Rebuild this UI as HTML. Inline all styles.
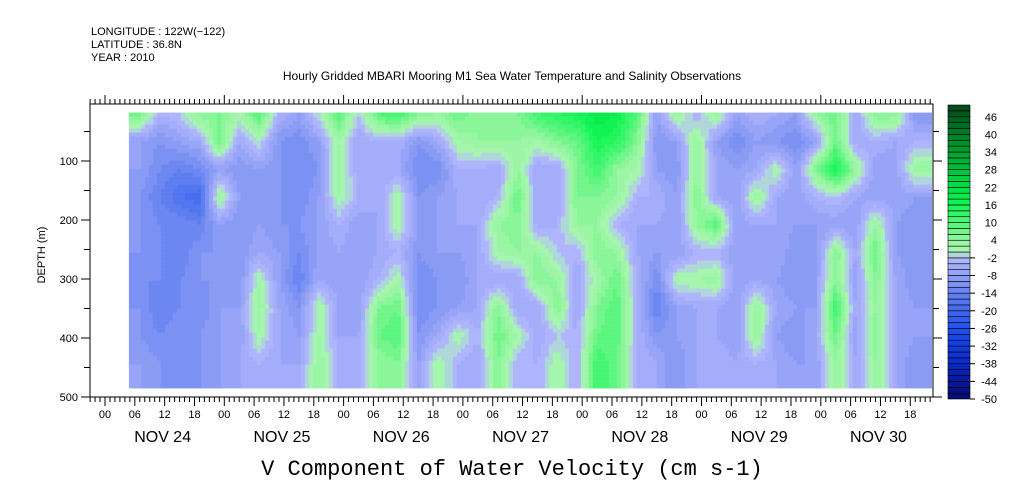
<!DOCTYPE html>
<html><head><meta charset="utf-8"><style>
html,body{margin:0;padding:0;background:#fff;}
svg{display:block;font-family:"Liberation Sans",sans-serif;}
</style></head><body>
<svg id="chart" width="1009" height="504" viewBox="0 0 1009 504">
<text x="91" y="35" font-size="11">LONGITUDE : 122W(−122)</text>
<text x="91" y="48" font-size="11">LATITUDE : 36.8N</text>
<text x="91" y="61" font-size="11">YEAR : 2010</text>
<text x="512" y="80" font-size="12" text-anchor="middle">Hourly Gridded MBARI Mooring M1 Sea Water Temperature and Salinity Observations</text>
<g id="heat"></g>
<g id="axes"></g>
<g id="cbar"></g>
<text x="512" y="475" font-size="22" font-family="Liberation Mono, monospace" text-anchor="middle">V Component of Water Velocity (cm s-1)</text>
<text transform="translate(45,255) rotate(-90)" font-size="11" text-anchor="middle">DEPTH (m)</text>
</svg>
<script>
// time (hours since NOV 24 00:00) of each data column, depth rows (m)
const colHours = [7,11,15,19,23,27,31,35,39,43,47,51,55,59,63,67,71,75,79,83,87,91,95,99,103,107,111,115,119,123,127,131,135,139,143,147,151,155,159,163];
const rowDepths = [20,67,114,161,208,255,302,349,396,443];
const dayLabels = ["NOV 24","NOV 25","NOV 26","NOV 27","NOV 28","NOV 29","NOV 30"];
const hourLabels = ["00","06","12","18"];
const depthTicks = [100,200,300,400,500];
const cbarLabels = [46,40,34,28,22,16,10,4,-2,-8,-14,-20,-26,-32,-38,-44,-50];
// V velocity values (cm/s), one array per column, top to bottom
const values = [
[8,-8,-8,-10,-10,-10,-12,-10,-10,-8],
[-4,-10,-12,-14,-12,-12,-12,-14,-12,-10],
[-2,-8,-14,-18,-12,-14,-12,-12,-10,-12],
[6,-6,-12,-20,-14,-10,-10,-12,-10,-10],
[6,8,-8,4,-8,-10,-10,-8,-8,-8],
[2,-6,-10,-8,-10,-10,-10,-8,-8,-6],
[10,0,-8,-8,-8,-6,2,4,2,-4],
[-4,-10,-10,-10,-10,-8,-8,-6,-6,-6],
[-8,-12,-12,-12,-10,-12,-14,-10,-8,-6],
[0,-8,-10,-8,-8,-8,-6,2,2,4],
[10,2,4,2,-4,-6,-8,-6,-6,-4],
[-2,-6,-6,-4,-8,-8,-8,-8,-6,-6],
[10,-4,-6,-6,-6,-6,-4,6,8,4],
[12,-4,-6,2,2,-4,2,8,10,6],
[6,-10,-12,-10,-8,-10,-12,-12,-10,-8],
[4,-6,-12,-8,-8,-8,-10,-10,-6,2],
[8,2,-4,-6,-6,-8,-10,-8,2,-4],
[4,4,-4,-6,-6,-6,-6,-6,-4,-6],
[6,4,-6,-4,4,2,-6,6,8,6],
[6,4,4,8,6,4,-6,-6,2,-4],
[12,2,-6,-6,-6,4,6,-6,-6,-4],
[14,6,-6,-6,-4,-2,4,6,-2,2],
[16,8,6,6,4,-4,-6,-6,-4,-4],
[20,16,12,6,4,6,2,6,8,12],
[18,14,4,4,-4,4,8,10,10,8],
[10,6,2,-4,-6,-6,-4,-4,-4,-4],
[-8,-10,-8,-4,-6,-8,-12,-14,-10,-6],
[4,-8,-10,-8,-8,-8,2,-8,-8,-10],
[-4,4,4,6,4,-4,2,-6,-6,-6],
[4,-8,-6,-6,10,-4,4,-6,-6,-4],
[-8,-12,-8,-8,-8,-8,-8,-8,-8,-6],
[-4,-8,-6,4,-6,-8,-6,4,4,-4],
[-6,-10,2,-6,-6,-6,-8,-6,-8,-6],
[-8,-12,-8,-8,-8,-10,-10,-8,-10,-8],
[4,-8,6,-4,-8,-10,-8,-8,-6,-8],
[8,8,16,-2,-8,6,6,12,8,4],
[-6,-6,4,-6,-8,-6,-8,-6,-8,-6],
[6,-4,-8,-8,4,8,6,4,6,4],
[6,-6,-8,-6,-8,-8,-6,-6,-6,-6],
[-10,-4,4,-8,-10,-10,-10,-8,-8,-10]
];

const NS='http://www.w3.org/2000/svg';
const X0=105, PXH=119.3/24;
const xS=h=>X0+h*PXH;
const Y0=102, PXM=0.59;
const yS=d=>Y0+d*PXM;
const FL=90, FR=933, FT=104, FB=397;

function lerp(a,b,t){return a+(b-a)*t;}
const stops=[[-50,[5,10,110]],[-38,[10,40,200]],[-26,[30,80,240]],[-14,[100,130,240]],[-8,[145,160,245]],[-2,[180,185,255]],
[0,[170,245,180]],[4,[150,245,160]],[10,[80,245,120]],[16,[20,245,85]],[22,[0,225,70]],[34,[0,160,50]],[50,[0,70,25]]];
function color(v){
  v=Math.max(-50,Math.min(49.9,v));
  v=Math.floor(v/2)*2+1;
  for(let i=0;i<stops.length-1;i++){
    const [a,ca]=stops[i],[b,cb]=stops[i+1];
    if(v>=a&&v<=b){const t=(v-a)/(b-a);return `rgb(${ca.map((c,k)=>Math.round(lerp(c,cb[k],t))).join(',')})`;}
  }
  return 'rgb(0,70,25)';
}
function mk(tag,attrs,parent){const e=document.createElementNS(NS,tag);for(const k in attrs)e.setAttribute(k,attrs[k]);parent.appendChild(e);return e;}

const heat=document.getElementById('heat');
const hStart=colHours[0]-2.2, hEnd=colHours[colHours.length-1]+3.3;
const dTop=18, dBot=485;
const cw=4, ch=4;
const xa=xS(hStart), xb=xS(hEnd), ya=yS(dTop), yb=yS(dBot);
function sample(h,d){
  let ci=0; while(ci<colHours.length-2&&h>colHours[ci+1])ci++;
  let tx=(h-colHours[ci])/(colHours[ci+1]-colHours[ci]); tx=Math.max(0,Math.min(1,tx));
  let ri=0; while(ri<rowDepths.length-2&&d>rowDepths[ri+1])ri++;
  let ty=(d-rowDepths[ri])/(rowDepths[ri+1]-rowDepths[ri]); ty=Math.max(0,Math.min(1,ty));
  const a=lerp(values[ci][ri],values[ci+1][ri],tx), b=lerp(values[ci][ri+1],values[ci+1][ri+1],tx);
  return lerp(a,b,ty);
}
for(let y=ya;y<yb;y+=ch){
  for(let x=xa;x<xb;x+=cw){
    const h=(x+cw/2-X0)/PXH, d=(y+ch/2-Y0)/PXM;
    const r=mk('rect',{x:x.toFixed(1),y:y.toFixed(1),width:Math.min(cw,xb-x)+0.3,height:Math.min(ch,yb-y)+0.3,fill:color(sample(h,d))},heat);
    
    
  }
}

const ax=document.getElementById('axes');
const frame=mk('rect',{x:FL,y:FT,width:FR-FL,height:FB-FT,fill:'none',stroke:'#000','stroke-width':1},ax);


for(let h=-3;h<=169;h++){
  const x=xS(h); if(x<FL||x>FR)continue;
  const major=((h%6)+6)%6===0, day=((h%24)+24)%24===0;
  mk('line',{x1:x,x2:x,y1:FB,y2:FB+(major?9:5),stroke:'#000'},ax);
  mk('line',{x1:x,x2:x,y1:FT,y2:FT-(day?9:5),stroke:'#000'},ax);
  if(major){
    const t=mk('text',{x:x,y:FB+21,'font-size':11,'text-anchor':'middle'},ax);
    t.textContent=hourLabels[(((h%24)+24)%24)/6];
    
    
  }
}
dayLabels.forEach((lab,i)=>{
  const t=mk('text',{x:xS(i*24+12)-2,y:FB+45,'font-size':16,'text-anchor':'middle'},ax);
  t.textContent=lab;
  
  
});
for(let d=50;d<=500;d+=50){
  const y=yS(d); if(y>FB+1)continue;
  const major=d%100===0;
  mk('line',{x1:FL,x2:FL-(major?9:6),y1:y,y2:y,stroke:'#000'},ax);
  mk('line',{x1:FR,x2:FR+(major?9:6),y1:y,y2:y,stroke:'#000'},ax);
}
depthTicks.forEach(d=>{
  const t=mk('text',{x:FL-12,y:Math.min(yS(d),FB)+4,'font-size':11,'text-anchor':'end'},ax);
  t.textContent=d;
  
  
});

const cb=document.getElementById('cbar');
const cbT=105, cbB=399, cbX=948, cbW=22;
const cy=v=>cbB-(v+50)/100*(cbB-cbT);
for(let v=-50;v<50;v+=2){
  const r=mk('rect',{x:cbX,y:cy(v+2),width:cbW,height:cy(v)-cy(v+2),fill:color(v+1),stroke:'#000','stroke-width':0.6},cb);
  
  
}
cbarLabels.forEach(v=>{
  const t=mk('text',{x:997,y:cy(v)+4,'font-size':11,'text-anchor':'end'},cb);
  t.textContent=v;
  
  
  if(v<-1) mk('line',{x1:cbX+cbW,x2:cbX+cbW+5,y1:cy(v),y2:cy(v),stroke:'#000'},cb);
});
</script>
</body></html>
